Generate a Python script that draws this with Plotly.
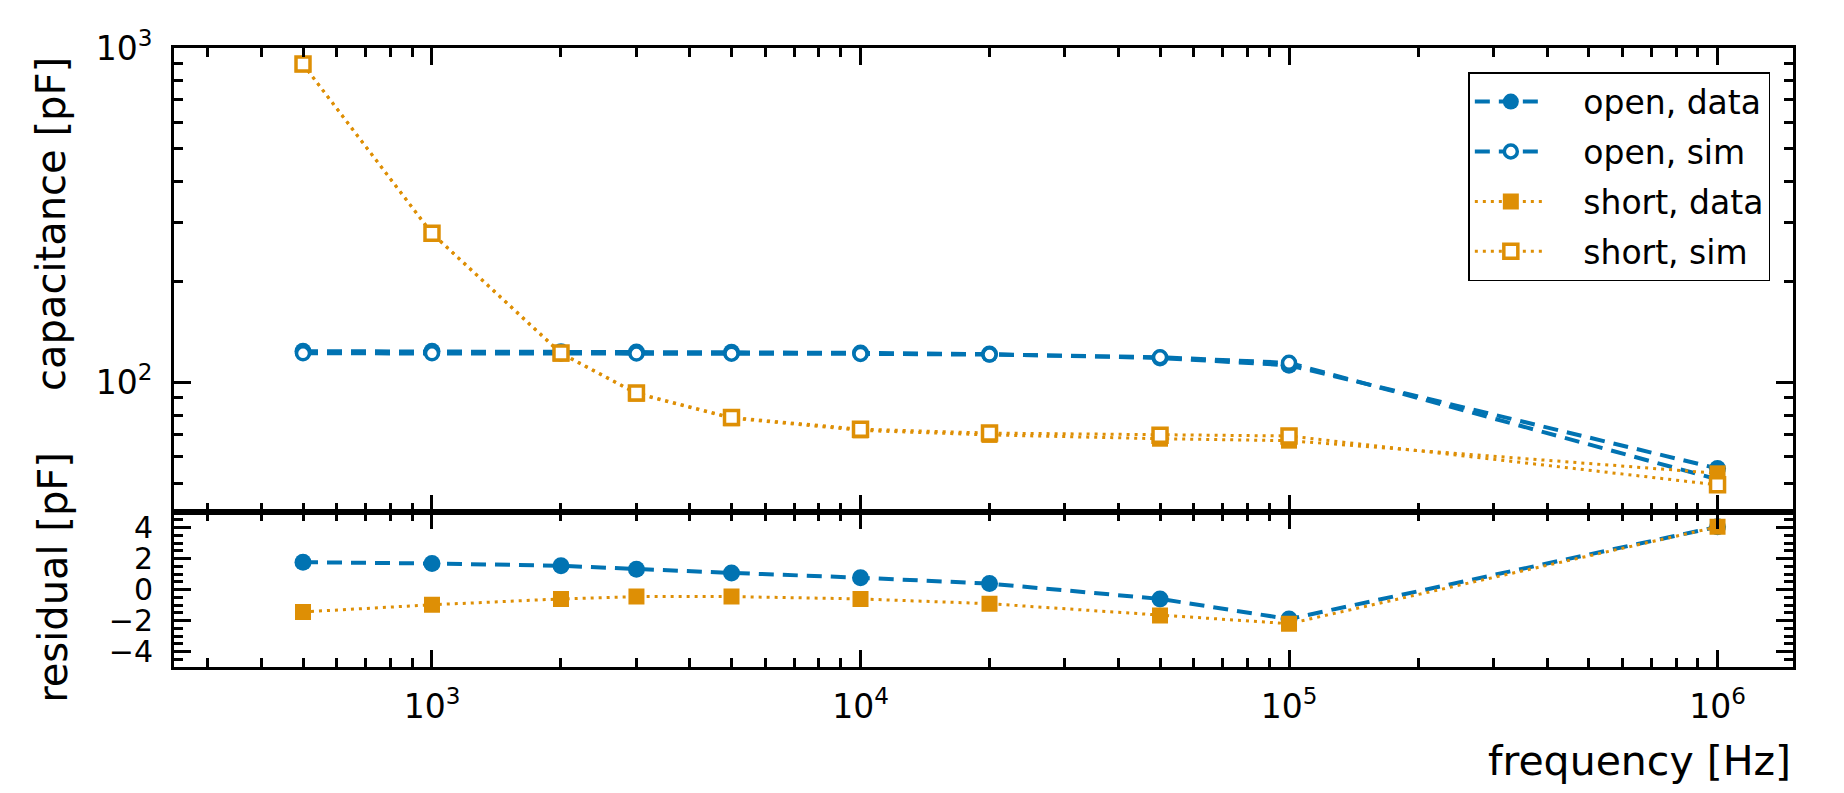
import plotly.graph_objects as go
from plotly.subplots import make_subplots

freq = [500, 1000, 2000, 3000, 5000, 10000, 20000, 50000, 100000, 1000000]
open_data = [124.2, 124.1, 123.8, 123.5, 123.2, 122.7, 121.7, 118.5, 112.7, 55.4]
open_sim = [122.4, 122.4, 122.3, 122.2, 122.1, 121.9, 121.3, 119.1, 114.6, 51.4]
open_res = [1.77, 1.69, 1.54, 1.31, 1.08, 0.77, 0.39, -0.60, -1.90, 4.06]
short_data = [893.6, 278.7, 122.1, 92.7, 78.3, 72.0, 69.8, 68.0, 67.1, 53.6]
short_sim = [895.0, 279.7, 122.7, 93.1, 78.7, 72.6, 70.7, 69.7, 69.3, 49.5]
short_res = [-1.44, -0.98, -0.60, -0.45, -0.45, -0.60, -0.91, -1.67, -2.20, 4.06]

series_names = ["open, data", "open, sim", "short, data", "short, sim"]
x_tickvals = [1e3, 1e4, 1e5, 1e6]
x_ticktext = ["10<sup>3</sup>", "10<sup>4</sup>", "10<sup>5</sup>", "10<sup>6</sup>"]
y_tickvals = [100, 1000]
y_ticktext = ["10<sup>2</sup>", "10<sup>3</sup>"]
res_tickvals = [-4, -2, 0, 2, 4]

BLUE = "#0173B2"
ORANGE = "#DE8F05"
FONT = "DejaVu Sans"
PAD = "\u00a0\u00a0\u00a0"

fig = make_subplots(rows=2, cols=1, shared_xaxes=True, vertical_spacing=0,
                    row_heights=[0.75, 0.25])

DASH = "15px,9px"
DOT = "3px,5px"
blue_line = dict(color=BLUE, width=4, dash=DASH)
orange_line = dict(color=ORANGE, width=3, dash=DOT)

fig.add_trace(go.Scatter(x=freq, y=open_data, name=PAD + series_names[0], legendgroup="a",
                         mode="lines+markers", line=blue_line,
                         marker=dict(symbol="circle", size=17, color=BLUE, line=dict(width=0))),
              row=1, col=1)
fig.add_trace(go.Scatter(x=freq, y=open_sim, name=PAD + series_names[1], legendgroup="b",
                         mode="lines+markers", line=blue_line,
                         marker=dict(symbol="circle", size=13, color="white",
                                     line=dict(width=3.5, color=BLUE))),
              row=1, col=1)
fig.add_trace(go.Scatter(x=freq, y=short_data, name=PAD + series_names[2], legendgroup="c",
                         mode="lines+markers", line=orange_line,
                         marker=dict(symbol="square", size=16, color=ORANGE, line=dict(width=0))),
              row=1, col=1)
fig.add_trace(go.Scatter(x=freq, y=short_sim, name=PAD + series_names[3], legendgroup="d",
                         mode="lines+markers", line=orange_line,
                         marker=dict(symbol="square", size=14, color="white",
                                     line=dict(width=3.5, color=ORANGE))),
              row=1, col=1)

fig.add_trace(go.Scatter(x=freq, y=open_res, mode="lines+markers", showlegend=False,
                         line=blue_line,
                         marker=dict(symbol="circle", size=17, color=BLUE, line=dict(width=0))),
              row=2, col=1)
fig.add_trace(go.Scatter(x=freq, y=short_res, mode="lines+markers", showlegend=False,
                         line=orange_line,
                         marker=dict(symbol="square", size=16, color=ORANGE, line=dict(width=0))),
              row=2, col=1)

axis_common = dict(showline=True, linecolor="black", linewidth=3, mirror="ticks",
                   ticks="inside", ticklen=17, tickwidth=3, tickcolor="black",
                   showgrid=False, zeroline=False)

minor_log = dict(ticks="inside", ticklen=9, tickwidth=2.5, tickcolor="black",
                 dtick="D1", showgrid=False)

xrange = [2.39794, 6.17609]
fig.update_xaxes(type="log", range=xrange, tickvals=x_tickvals, ticktext=x_ticktext,
                 minor=minor_log, tickfont=dict(family=FONT, size=33, color="black"),
                 **axis_common)
fig.update_xaxes(showticklabels=False, row=1, col=1)
fig.update_xaxes(showticklabels=True, ticklabelstandoff=8, row=2, col=1)

fig.update_yaxes(type="log", range=[1.6128, 3.0], tickvals=y_tickvals, ticktext=y_ticktext,
                 minor=minor_log, tickfont=dict(family=FONT, size=33, color="black"),
                 ticklabelstandoff=12, row=1, col=1, **axis_common)
fig.update_yaxes(range=[-5, 5], tickvals=res_tickvals,
                 minor=dict(ticks="inside", ticklen=9, tickwidth=2.5, tickcolor="black",
                            dtick=0.5, showgrid=False),
                 tickfont=dict(family=FONT, size=30, color="black"),
                 ticklabelstandoff=12, row=2, col=1, **axis_common)

fig.add_annotation(text="frequency [Hz]", xref="paper", yref="paper", x=1, y=0,
                   xanchor="right", yanchor="middle", yshift=-94, showarrow=False,
                   font=dict(family=FONT, size=41, color="black"))
fig.add_annotation(text="capacitance [pF]", xref="paper", yref="paper", x=0, y=0.7157,
                   xanchor="center", yanchor="middle", xshift=-123, textangle=-90,
                   showarrow=False, font=dict(family=FONT, size=40, color="black"))
fig.add_annotation(text="residual [pF]", xref="paper", yref="paper", x=0, y=0.144,
                   xanchor="center", yanchor="middle", xshift=-121, textangle=-90,
                   showarrow=False, font=dict(family=FONT, size=40, color="black"))

fig.update_layout(
    width=1844, height=793,
    margin=dict(l=174, r=51, t=48, b=126),
    paper_bgcolor="white", plot_bgcolor="white",
    font=dict(family=FONT, color="black"),
    legend=dict(x=0.986, y=0.961, xanchor="right", yanchor="top",
                bordercolor="black", borderwidth=1.5, bgcolor="white",
                font=dict(family=FONT, size=33, color="black"),
                itemwidth=72, tracegroupgap=4),
)

fig.write_html("out.html")
